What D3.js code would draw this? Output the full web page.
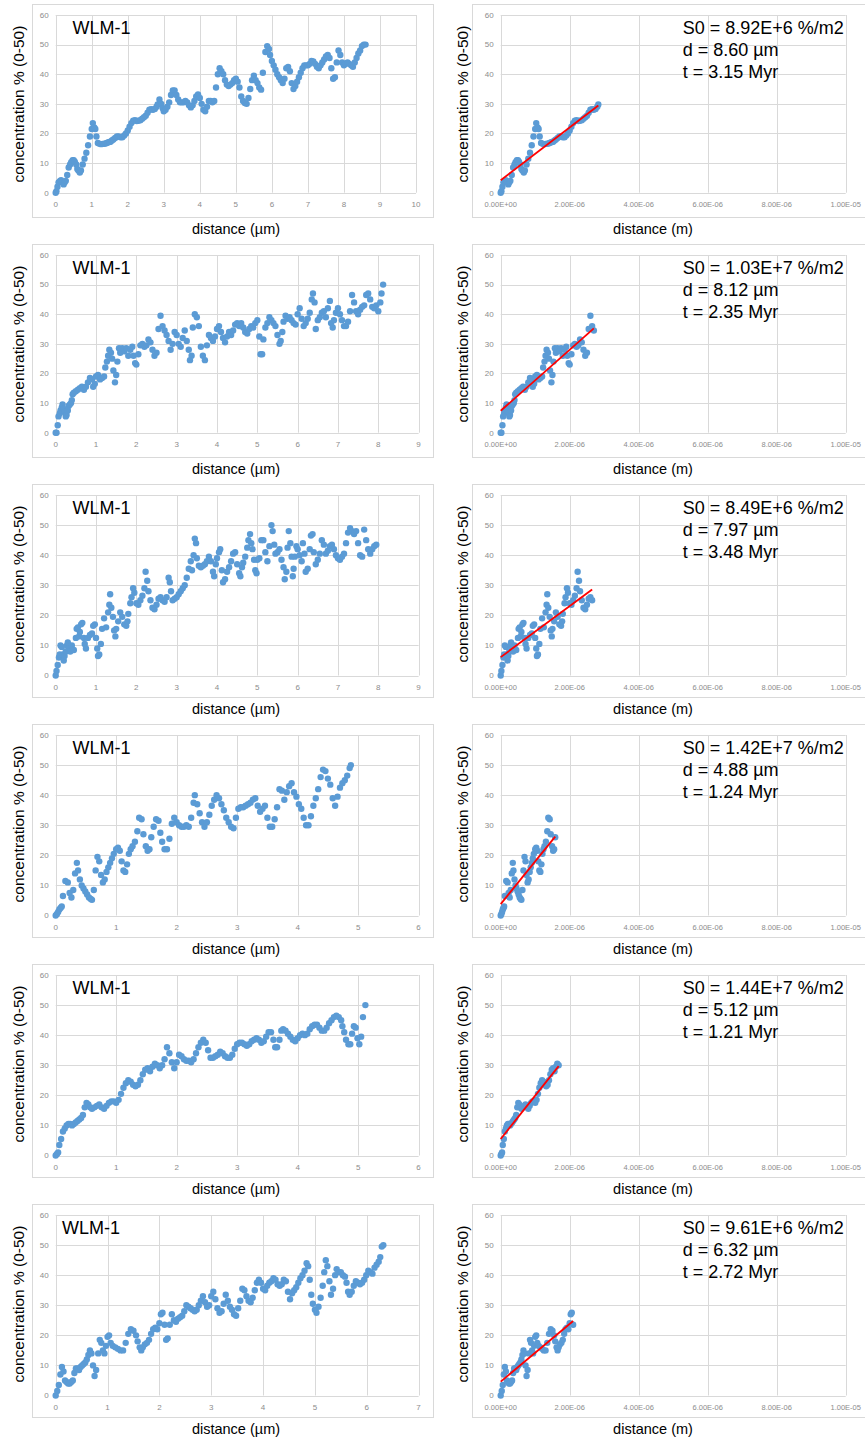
<!DOCTYPE html>
<html>
<head>
<meta charset="utf-8">
<script src="https://cdn.jsdelivr.net/npm/d3@7"></script>
<style>
  body { margin: 0; background: #ffffff; }
  svg { display: block; }
  text { font-family: "Liberation Sans", Arial, Helvetica, sans-serif; }
</style>
</head>
<body>
<svg id="chart" width="865" height="1442"></svg>
<script>
// ---- Concentration profiles: [distance (µm), concentration %] ----
const profile1 = [[0,0],[0.02,0.5],[0.05,2],[0.08,3.5],[0.12,4],[0.15,4.2],[0.18,3.5],[0.22,2.8],[0.25,3.5],[0.28,4],[0.32,6],[0.36,8.5],[0.4,9.5],[0.43,10.3],[0.47,11],[0.5,11],[0.53,10.5],[0.57,9.5],[0.6,8],[0.63,7.5],[0.67,6.8],[0.7,7.5],[0.75,9.5],[0.8,11.5],[0.85,13.5],[0.9,16],[0.95,19],[1.0,21.5],[1.03,23.5],[1.07,22],[1.1,21.5],[1.13,19],[1.17,16.8],[1.22,16.5],[1.26,16.4],[1.3,16.5],[1.34,16.5],[1.38,16.6],[1.42,16.8],[1.45,17],[1.49,17.1],[1.52,17.2],[1.56,17.6],[1.6,18],[1.65,18.5],[1.7,19],[1.75,19],[1.8,18.7],[1.85,18.7],[1.9,19.3],[1.95,20],[2.0,21],[2.05,22.3],[2.1,23.5],[2.15,24.3],[2.2,24.5],[2.25,24.2],[2.3,24.3],[2.35,24.5],[2.4,25],[2.45,25.5],[2.5,26],[2.55,27],[2.6,28],[2.65,28.2],[2.7,28],[2.75,28.3],[2.8,29],[2.83,29.8],[2.88,31.5],[2.93,30],[2.97,28.5],[3.0,27.5],[3.05,28],[3.1,29],[3.15,30.5],[3.2,33],[3.25,34.5],[3.3,34.5],[3.35,33],[3.4,31.5],[3.45,30.5],[3.5,30.5],[3.55,30.5],[3.6,31],[3.65,30.5],[3.7,29.5],[3.75,28.8],[3.8,29.5],[3.85,31],[3.9,32.5],[3.95,33.2],[4.0,32],[4.05,30],[4.1,28],[4.15,27.5],[4.2,29],[4.25,31],[4.3,31],[4.35,30.5],[4.4,31],[4.45,35.5],[4.5,40],[4.55,42],[4.6,41],[4.65,40],[4.7,38],[4.75,36.5],[4.8,36],[4.85,36.5],[4.9,37],[4.95,38],[5.0,38.5],[5.05,37.5],[5.1,35.5],[5.15,32.5],[5.2,31],[5.25,30.3],[5.3,30],[5.35,32],[5.4,35],[5.45,38],[5.5,39.5],[5.55,38],[5.6,37],[5.65,35.5],[5.7,34.8],[5.75,40.5],[5.82,47.5],[5.87,49.5],[5.92,48.5],[5.95,46.5],[6.0,44.5],[6.05,43],[6.1,41.5],[6.15,40],[6.2,39],[6.25,38],[6.3,37],[6.35,38.5],[6.4,42],[6.45,42.5],[6.5,41],[6.55,37],[6.6,35],[6.65,36],[6.7,37.5],[6.75,39],[6.8,40.5],[6.85,42],[6.9,43],[6.95,43],[7.0,43],[7.05,43.5],[7.1,44.5],[7.15,44.3],[7.2,43.5],[7.25,42.5],[7.3,42],[7.35,43],[7.4,44],[7.45,45],[7.5,46],[7.55,46.5],[7.6,45.5],[7.65,42],[7.7,38.5],[7.75,39],[7.8,44],[7.85,48],[7.9,46.5],[7.95,44],[8.0,43],[8.05,43.5],[8.1,44],[8.15,43.5],[8.2,43],[8.25,42.5],[8.3,44],[8.35,45.5],[8.4,47],[8.45,48],[8.5,49.5],[8.55,50],[8.6,50]];

const profile2 = [[0,0],[0.02,0],[0.05,2.5],[0.07,5.5],[0.1,6.5],[0.12,7.5],[0.15,8.5],[0.17,9.5],[0.2,8],[0.22,7],[0.25,5.5],[0.27,6],[0.3,7.5],[0.32,9],[0.35,9.5],[0.38,10],[0.4,11],[0.42,13],[0.45,13.5],[0.5,14],[0.55,14.5],[0.6,15],[0.65,15.5],[0.7,14.5],[0.75,15.5],[0.8,17],[0.85,18.5],[0.9,18],[0.93,15.5],[0.97,16.5],[1.0,19],[1.05,19.5],[1.1,18],[1.15,18.5],[1.2,19],[1.23,22],[1.27,24],[1.3,26],[1.33,28],[1.37,27],[1.4,25],[1.43,21],[1.47,17],[1.5,19.5],[1.53,24],[1.57,28.5],[1.6,27],[1.65,28.5],[1.7,27.5],[1.75,28.5],[1.8,26],[1.85,28],[1.9,29],[1.93,26],[1.97,23.5],[2.0,23],[2.05,26.5],[2.1,29.5],[2.15,30],[2.2,29],[2.25,29.5],[2.3,31.5],[2.35,30.5],[2.4,28],[2.45,26],[2.5,27],[2.55,35],[2.6,39.5],[2.65,36],[2.7,34.5],[2.75,33],[2.8,31],[2.85,28],[2.9,30],[2.95,34],[3.0,33],[3.05,30],[3.1,29],[3.15,32],[3.2,34.5],[3.25,31],[3.3,28],[3.33,24.5],[3.37,26],[3.4,35.5],[3.45,40],[3.5,39],[3.55,36],[3.6,29],[3.65,26],[3.7,24.5],[3.75,29.5],[3.8,33],[3.85,32],[3.9,31],[3.95,32.5],[4.0,35],[4.05,36],[4.1,34],[4.15,32],[4.2,30.5],[4.25,32.5],[4.3,34],[4.35,33],[4.4,34.5],[4.45,36.5],[4.5,37],[4.55,36],[4.6,37],[4.65,35.5],[4.7,34],[4.75,33.5],[4.8,35],[4.85,36],[4.9,35.5],[4.95,37],[5.0,38],[5.05,32.5],[5.08,26.5],[5.12,26.5],[5.15,31.5],[5.2,35.5],[5.25,37],[5.3,39],[5.35,38],[5.4,37],[5.45,36],[5.5,33],[5.55,30],[5.58,31],[5.62,34],[5.65,37.5],[5.7,39.5],[5.75,38.5],[5.8,39],[5.85,38],[5.9,37],[5.95,36.5],[6.0,40],[6.05,42],[6.1,38.5],[6.15,36],[6.2,37],[6.25,38.5],[6.3,40.5],[6.35,45],[6.38,47],[6.42,44],[6.45,35],[6.5,38],[6.55,39],[6.6,40.5],[6.65,41],[6.7,39],[6.75,42],[6.8,44.5],[6.83,37],[6.87,35.5],[6.9,38],[6.95,40.5],[7.0,42],[7.05,40],[7.1,38],[7.15,36],[7.2,36],[7.25,37.5],[7.3,41],[7.35,46.5],[7.4,44],[7.45,41],[7.5,40],[7.55,41.5],[7.6,42.5],[7.65,43],[7.7,46.5],[7.75,47],[7.8,45],[7.85,42.5],[7.9,42],[7.95,43],[8.0,41],[8.05,44],[8.08,47],[8.12,50]];

const profile3 = [[0,0],[0.02,1.5],[0.05,3.5],[0.08,6],[0.1,7],[0.12,10],[0.15,9.5],[0.18,7],[0.2,5],[0.22,6.5],[0.25,8],[0.28,10],[0.3,11],[0.33,9],[0.36,8],[0.4,10],[0.45,8.5],[0.5,12.5],[0.52,15.5],[0.55,16],[0.58,13],[0.6,14.5],[0.63,17],[0.66,17.5],[0.7,12.5],[0.72,10.5],[0.75,9],[0.8,12.5],[0.85,13.5],[0.9,14],[0.93,16.5],[0.97,17],[1.0,12.5],[1.03,9],[1.05,6.5],[1.08,7],[1.12,10.5],[1.15,15.5],[1.2,19],[1.25,16],[1.3,21],[1.33,23.5],[1.35,27],[1.38,22.5],[1.42,19.5],[1.45,15],[1.48,13],[1.5,15.5],[1.55,18],[1.6,21],[1.65,19.5],[1.7,17],[1.75,16.5],[1.78,18],[1.8,20.5],[1.85,24],[1.88,26],[1.92,29],[1.95,27.5],[2.0,24],[2.05,23.5],[2.1,25],[2.15,26.5],[2.2,29],[2.23,34.5],[2.27,31.5],[2.3,28],[2.35,25],[2.4,22.5],[2.45,22],[2.5,23.5],[2.55,25.5],[2.6,26],[2.65,25],[2.7,24.5],[2.75,26],[2.8,32.5],[2.83,31],[2.86,28],[2.9,25],[2.95,25.5],[3.0,26],[3.05,27],[3.1,28],[3.15,29],[3.2,30],[3.25,32.5],[3.3,35.5],[3.35,38],[3.38,35],[3.42,40],[3.45,45.5],[3.48,44],[3.5,39],[3.55,36.5],[3.6,36],[3.65,36.5],[3.7,37],[3.75,38],[3.8,39.5],[3.85,38],[3.9,34.5],[3.93,33],[3.97,37],[4.0,39],[4.05,41],[4.08,42],[4.12,35],[4.15,31],[4.2,32],[4.25,34.5],[4.3,36],[4.35,38],[4.4,40.5],[4.45,41],[4.5,37],[4.55,34],[4.58,33],[4.62,36],[4.65,37.5],[4.7,39.5],[4.75,42.5],[4.78,45],[4.82,47],[4.85,44],[4.88,42],[4.92,38.5],[4.95,35],[4.98,34],[5.0,38.5],[5.05,39],[5.1,45],[5.15,45],[5.2,41],[5.25,38],[5.3,43],[5.35,50],[5.38,48],[5.42,43.5],[5.45,40.5],[5.5,41],[5.55,42],[5.6,38.5],[5.65,36],[5.68,32],[5.72,34.5],[5.75,42.5],[5.78,48],[5.82,44],[5.85,39.5],[5.88,33],[5.9,35.5],[5.93,39.5],[5.97,43],[6.0,42],[6.05,40],[6.1,38],[6.13,44],[6.17,40.5],[6.2,34.5],[6.25,35.5],[6.3,42],[6.33,46.5],[6.37,47],[6.4,41],[6.45,37],[6.5,38.5],[6.55,40.5],[6.6,45],[6.65,43.5],[6.7,40.5],[6.75,41.5],[6.8,43],[6.85,43.5],[6.9,42],[6.95,40],[7.0,39],[7.05,38.5],[7.1,39.5],[7.15,40.5],[7.2,44],[7.25,47.5],[7.3,49],[7.35,48],[7.4,47],[7.45,48],[7.5,44],[7.55,40],[7.6,39.5],[7.65,48.5],[7.7,45],[7.75,42],[7.8,40.5],[7.85,42],[7.9,43],[7.95,43.5]];

const profile4 = [[0,0],[0.02,0.5],[0.04,1.2],[0.06,2],[0.08,2.5],[0.1,3],[0.12,6.5],[0.16,11.5],[0.2,11],[0.23,7.5],[0.26,6],[0.29,8.5],[0.32,14],[0.35,17.5],[0.37,15],[0.4,12],[0.43,10],[0.46,9],[0.49,8],[0.52,7],[0.55,6],[0.58,5.5],[0.6,5.2],[0.63,8.5],[0.66,15],[0.69,19.5],[0.72,18],[0.75,13.5],[0.78,11],[0.81,12],[0.84,14.5],[0.87,16],[0.9,17.5],[0.93,19],[0.96,20.5],[1.0,22],[1.03,22.5],[1.06,21.5],[1.09,18],[1.12,15],[1.15,14.5],[1.18,17],[1.21,20.5],[1.24,22],[1.27,23],[1.31,24.5],[1.35,28],[1.38,32.5],[1.42,32],[1.45,27],[1.49,23],[1.52,21.5],[1.55,22],[1.58,26],[1.62,29.5],[1.66,32],[1.7,31.5],[1.73,27.5],[1.76,24.5],[1.8,22],[1.84,22],[1.88,25.5],[1.92,30.5],[1.96,32.5],[2.0,31],[2.04,30],[2.08,29.5],[2.12,29.5],[2.16,30],[2.2,29.5],[2.24,32.5],[2.28,37.5],[2.3,40],[2.34,37],[2.38,34],[2.42,31],[2.46,29.5],[2.5,31],[2.54,33.5],[2.58,36.5],[2.62,38.5],[2.66,40],[2.7,39],[2.74,37],[2.78,35],[2.82,32.5],[2.86,31],[2.9,29.5],[2.94,29],[2.98,32.5],[3.02,35.5],[3.06,36],[3.1,36],[3.14,36.5],[3.18,37],[3.22,37.5],[3.26,38.5],[3.3,39],[3.34,36.5],[3.38,34.5],[3.42,35.5],[3.46,36.5],[3.5,32.5],[3.54,29.5],[3.58,29.5],[3.62,32],[3.66,36],[3.7,42],[3.74,41.5],[3.78,38.5],[3.82,41],[3.86,43],[3.9,44],[3.94,41],[3.98,39.5],[4.02,37],[4.06,35.5],[4.1,32.5],[4.14,30],[4.18,30],[4.22,33],[4.26,36.5],[4.3,39],[4.34,42],[4.38,46],[4.42,48.5],[4.46,48],[4.5,45.5],[4.54,43.5],[4.58,39],[4.62,36.5],[4.66,39.5],[4.7,42.5],[4.74,44],[4.78,45],[4.82,46.5],[4.86,49],[4.88,50]];

const profile5 = [[0,0],[0.02,0.5],[0.04,1],[0.06,3.5],[0.09,5.5],[0.12,8],[0.15,9],[0.18,10],[0.21,10.5],[0.24,10.5],[0.27,10],[0.3,10.5],[0.33,11],[0.36,11.5],[0.39,12],[0.42,12.5],[0.45,13.5],[0.48,16],[0.51,17.5],[0.54,17],[0.57,16],[0.6,15.5],[0.64,16],[0.68,16.5],[0.72,17],[0.76,16],[0.8,15.5],[0.84,16.5],[0.88,17.5],[0.92,18],[0.96,18],[1.0,17.5],[1.04,18.5],[1.08,20.5],[1.12,22.5],[1.16,24],[1.2,25],[1.24,24.5],[1.28,23.5],[1.32,23],[1.36,23.5],[1.4,25],[1.44,27],[1.48,28.5],[1.52,29],[1.56,28],[1.6,29.5],[1.64,30.5],[1.68,30],[1.72,29],[1.76,30],[1.8,32],[1.84,36],[1.88,34],[1.92,31],[1.96,29],[2.0,31],[2.04,33.5],[2.08,33],[2.12,32],[2.16,31.5],[2.2,31.5],[2.24,31],[2.28,32],[2.32,34],[2.36,36],[2.4,37.5],[2.44,38.5],[2.48,37.5],[2.52,35],[2.56,32.5],[2.6,32.5],[2.64,33],[2.68,33.5],[2.72,34.5],[2.76,34],[2.8,33],[2.84,32.5],[2.88,32.5],[2.92,33.5],[2.96,35.5],[3.0,37],[3.04,37.5],[3.08,37.5],[3.12,37],[3.16,36.5],[3.2,37],[3.24,38],[3.28,38.5],[3.32,39],[3.36,38.5],[3.4,37.5],[3.44,38],[3.48,39.5],[3.52,41],[3.56,41],[3.6,38.5],[3.63,36],[3.66,36],[3.7,38.5],[3.73,41.5],[3.76,42],[3.8,41.5],[3.84,40.5],[3.88,39.5],[3.92,38.5],[3.96,38],[4.0,39],[4.04,40],[4.08,40.5],[4.12,40],[4.16,40.5],[4.2,42],[4.24,43],[4.28,43.5],[4.32,43.5],[4.36,42.5],[4.4,41.5],[4.44,41.5],[4.48,42.5],[4.52,44],[4.56,45],[4.6,46],[4.64,46.5],[4.68,46],[4.72,45],[4.74,43],[4.77,41],[4.8,38.5],[4.84,37],[4.87,37],[4.9,40.5],[4.93,43],[4.96,42.5],[4.99,39],[5.02,37],[5.05,39.5],[5.08,46],[5.12,50]];

const profile6 = [[0,0],[0.03,1.5],[0.06,3.5],[0.09,7],[0.12,9.5],[0.15,8],[0.18,5],[0.21,4.5],[0.24,4],[0.27,4],[0.3,4.5],[0.33,5],[0.36,7.5],[0.39,9],[0.42,9],[0.45,8.5],[0.48,9.5],[0.51,10],[0.54,10.5],[0.57,11],[0.6,12],[0.63,13.5],[0.66,15],[0.69,14],[0.72,10],[0.75,6.5],[0.78,8.5],[0.82,14],[0.85,18.5],[0.88,17.5],[0.91,15],[0.94,14],[0.97,16.5],[1.0,19.5],[1.03,20],[1.06,17.5],[1.1,16.5],[1.15,16],[1.2,15.5],[1.25,15],[1.3,15],[1.35,17.5],[1.4,20.5],[1.45,22],[1.5,21.5],[1.55,20],[1.58,18],[1.62,16],[1.65,15],[1.68,16],[1.72,17],[1.76,17.5],[1.8,18.5],[1.84,20.5],[1.88,22],[1.92,22.5],[1.96,22],[2.0,24],[2.03,27],[2.06,27.5],[2.1,23.5],[2.13,18.5],[2.16,19],[2.2,23.5],[2.24,27],[2.28,25],[2.32,24.5],[2.36,25.5],[2.4,26],[2.44,26.5],[2.48,28],[2.52,30],[2.56,29.5],[2.6,29],[2.64,28.5],[2.68,28],[2.72,28.5],[2.76,30],[2.8,31.5],[2.84,33],[2.88,31],[2.92,29.5],[2.96,30],[3.0,33],[3.04,34.5],[3.08,32],[3.12,29],[3.16,27.5],[3.2,28],[3.24,30.5],[3.28,33.5],[3.32,31.5],[3.36,29.5],[3.4,28.5],[3.44,27],[3.48,26.5],[3.52,29],[3.56,31.5],[3.6,35.5],[3.64,35],[3.68,33],[3.72,31.5],[3.76,31],[3.8,32.5],[3.84,35],[3.88,37.5],[3.92,38.5],[3.96,37.5],[4.0,35.5],[4.04,35],[4.08,36.5],[4.12,37.5],[4.16,38],[4.2,39],[4.24,38.5],[4.28,37],[4.32,36.5],[4.36,37],[4.4,38.5],[4.44,38],[4.48,34.5],[4.52,32],[4.56,34],[4.6,35],[4.64,36],[4.68,37.5],[4.72,39],[4.76,40],[4.8,41.5],[4.84,44],[4.87,43],[4.9,38.5],[4.93,33.5],[4.96,30.5],[5.0,28.5],[5.03,27.5],[5.07,29.5],[5.11,32.5],[5.15,36.5],[5.18,41],[5.21,45],[5.24,43],[5.28,38],[5.31,33.5],[5.35,35.5],[5.39,40],[5.42,42],[5.46,41],[5.5,41],[5.54,40],[5.58,39.5],[5.61,37.5],[5.64,34.5],[5.67,33.5],[5.71,34.5],[5.75,36.5],[5.79,38],[5.83,37.5],[5.87,37],[5.91,37.5],[5.95,38.5],[5.99,40],[6.03,41.5],[6.07,41],[6.11,40.5],[6.15,42.5],[6.19,43.5],[6.23,44.5],[6.26,46],[6.29,49.5],[6.32,50]];

// ---- Per-profile settings ----
const profiles = [profile1, profile2, profile3, profile4, profile5, profile6];
const xMaxUm = [10, 9, 9, 6, 6, 7];                 // left axis maximum (µm)
const fitCutoffUm = [2.84, 2.72, 2.66, 1.6, 1.7, 2.11]; // fitted near-surface section (µm)
const s0Values = [8.92e6, 1.03e7, 8.49e6, 1.42e7, 1.44e7, 9.61e6]; // slope, %/m2
const fitIntercept = [4.2, 7.4, 6.1, 3.8, 5.5, 4.6];  // line value at the surface, %
const depthUm = [8.60, 8.12, 7.97, 4.88, 5.12, 6.32];
const ageMyr = [3.15, 2.35, 3.48, 1.24, 1.21, 2.72];
const yTicks = [0, 10, 20, 30, 40, 50, 60];
const metreTicks = [0, 2e-6, 4e-6, 6e-6, 8e-6, 1e-5];
const sampleName = "WLM-1";

const svg = d3.select("#chart");
const DOT = "#5b9bd5", GRID = "#d9d9d9", TICK = "#8c8c8c";

function sciLabel(v) {
  const [m, e] = v.toExponential(2).split("e");
  const n = +e;
  return m + "E" + (n < 0 ? "-" : "+") + String(Math.abs(n)).padStart(2, "0");
}

function drawFrame(g, x, y, xTicks, xFmt, tickSize) {
  // horizontal gridlines
  g.append("g").selectAll("line").data(yTicks).join("line")
    .attr("x1", x.range()[0]).attr("x2", x.range()[1])
    .attr("y1", d => Math.round(y(d)) + 0.5).attr("y2", d => Math.round(y(d)) + 0.5)
    .attr("stroke", GRID).attr("stroke-width", 1);
  // vertical gridlines
  g.append("g").selectAll("line").data(xTicks).join("line")
    .attr("x1", d => Math.round(x(d)) + 0.5).attr("x2", d => Math.round(x(d)) + 0.5)
    .attr("y1", y.range()[1]).attr("y2", y.range()[0])
    .attr("stroke", GRID).attr("stroke-width", 1);
  // y tick labels
  g.append("g").selectAll("text").data(yTicks).join("text")
    .attr("x", x.range()[0] - 7).attr("y", d => y(d)).attr("dy", "0.35em")
    .attr("text-anchor", "end").attr("font-size", 8).attr("fill", TICK)
    .text(d => d);
  // x tick labels
  g.append("g").selectAll("text").data(xTicks).join("text")
    .attr("x", d => x(d)).attr("y", y.range()[0] + 11.5).attr("dy", "0.35em")
    .attr("text-anchor", "middle").attr("font-size", tickSize).attr("fill", TICK)
    .text(xFmt);
}

function drawDots(g, pts, x, y) {
  g.append("g").selectAll("circle").data(pts).join("circle")
    .attr("cx", d => x(d[0])).attr("cy", d => y(d[1]))
    .attr("r", 3.2).attr("fill", DOT);
}

profiles.forEach((pts, i) => {
  const top = i * 240;
  const yBottom = top + (i < 2 ? 192.7 : 195.5);
  const y = d3.scaleLinear().domain([0, 60]).range([yBottom, top + 15]);

  // ----- left: full profile in µm -----
  const L = svg.append("g");
  L.append("rect").attr("x", 32.5).attr("y", top + 4.5).attr("width", 401).attr("height", 213)
    .attr("fill", "none").attr("stroke", GRID);
  const xL = d3.scaleLinear().domain([0, xMaxUm[i]]).range([55.7, i === 0 ? 416 : 418.6]);
  drawFrame(L, xL, y, d3.range(0, xMaxUm[i] + 1), d => d, 8);
  drawDots(L, pts, xL, y);
  L.append("text").attr("x", i === 5 ? 62 : 72.5).attr("y", top + 34.3)
    .attr("font-size", 18).attr("fill", "#000").text(sampleName);
  L.append("text").attr("x", 236).attr("y", top + 233.5).attr("text-anchor", "middle")
    .attr("font-size", 14.5).attr("fill", "#000").text("distance (µm)");
  L.append("text").attr("transform", `translate(23.5,${top + 104}) rotate(-90)`)
    .attr("text-anchor", "middle").attr("font-size", 15.5).attr("fill", "#000")
    .text("concentration % (0-50)");

  // ----- right: near-surface section in metres with linear fit -----
  const R = svg.append("g");
  R.append("rect").attr("x", 472.5).attr("y", top + 4.5).attr("width", 420).attr("height", 213)
    .attr("fill", "none").attr("stroke", GRID);
  const xR = d3.scaleLinear().domain([0, 1e-5]).range([500.7, 845.7]);
  drawFrame(R, xR, y, metreTicks, d => sciLabel(d), 7.5);
  const near = pts.filter(d => d[0] <= fitCutoffUm[i]).map(d => [d[0] * 1e-6, d[1]]);
  drawDots(R, near, xR, y);
  const xEnd = d3.max(near, d => d[0]);
  const fitLine = [[0, fitIntercept[i]], [xEnd, fitIntercept[i] + s0Values[i] * xEnd]];
  R.append("path").datum(fitLine)
    .attr("d", d3.line().x(d => xR(d[0])).y(d => y(d[1])))
    .attr("fill", "none").attr("stroke", "#ff0000").attr("stroke-width", 1.8);

  const stats = [
    "S0 = " + s0Values[i].toExponential(2).toUpperCase() + " %/m2",
    "d = " + depthUm[i].toFixed(2) + " µm",
    "t = " + ageMyr[i].toFixed(2) + " Myr"
  ];
  R.append("g").selectAll("text").data(stats).join("text")
    .attr("x", 682.7).attr("y", (d, k) => top + 34.3 + k * 22)
    .attr("font-size", 18).attr("fill", "#000").text(d => d);
  R.append("text").attr("x", 653).attr("y", top + 233.5).attr("text-anchor", "middle")
    .attr("font-size", 14.5).attr("fill", "#000").text("distance (m)");
  R.append("text").attr("transform", `translate(468,${top + 104}) rotate(-90)`)
    .attr("text-anchor", "middle").attr("font-size", 15.5).attr("fill", "#000")
    .text("concentration % (0-50)");
});
</script>
</body>
</html>
